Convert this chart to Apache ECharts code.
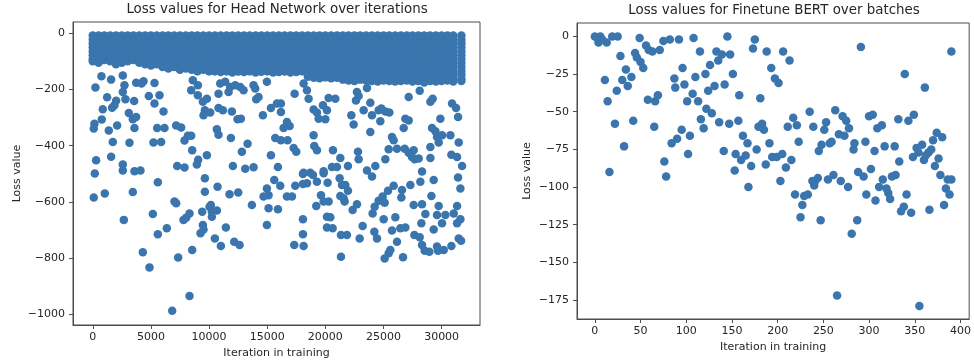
<!DOCTYPE html>
<html><head><meta charset="utf-8">
<script src="https://cdn.jsdelivr.net/npm/echarts@6/dist/echarts.min.js"></script>
<style>html,body{margin:0;padding:0;background:#fff}#c{width:974px;height:364px}</style>
</head><body><div id="c"></div>
<script>
// ---------- Head Network: dense band (columns) ----------
const headBlobX = [0,500,1000,1500,2000,2500,3000,3500,4000,4500,5000,5500,6000,6500,7000,7500,8000,8500,9000,9500,10000,10500,11000,11500,12000,12500,13000,13500,14000,14500,15000,15500,16000,16500,17000,17500,18000,18500,19000,19500,20000,20500,21000,21500,22000,22500,23000,23500,24000,24500,25000,25500,26000,26500,27000,27500,28000,28500,29000,29500,30000,30500,31000,31700];
const headBlobBottom = [-100,-105,-95,-100,-110,-105,-100,-95,-105,-110,-115,-110,-120,-125,-120,-130,-125,-130,-135,-130,-135,-135,-138,-135,-140,-136,-138,-135,-140,-137,-135,-140,-138,-136,-140,-138,-135,-155,-158,-160,-157,-160,-158,-165,-168,-170,-165,-168,-170,-172,-168,-170,-172,-170,-168,-172,-170,-175,-170,-172,-170,-168,-172,-170];
const headBlobLevels = [-8,-22,-36,-50,-64,-78,-92,-106,-120,-134,-148,-162];
// ---------- Head Network: isolated points ----------
const headOutX = [230,746,1578,2583,2726,2583,2812,1234,2009,1865,861,1664,3730,4361,4189,5308,4820,5738,3558,5308,6083,3099,3443,3730,3587,775,144,87,1377,2095,5537,6169,7173,7603,8179,8464,7890,1722,3156,5222,5881,8550,9066,9812,1578,287,2583,2583,3587,4103,7259,7890,8952,8607,9037,8464,9037,9468,9640,9525,9812,173,
10959,11389,11819,12250,12680,12967,11676,10815,13828,13971,14975,14258,14057,10098,10815,11188,11963,12451,12737,15320,15836,16180,16180,14631,17357,18131,18418,18562,20283,20857,19795,18992,19278,19422,20000,20140,16697,16927,16410,10672,10815,11877,15692,16180,16754,13311,12824,15320,17271,17500,18992,19049,19278,20656,21287,12049,13110,13828,15922,18131,18705,19853,20570,21000,
22720,22634,22863,23581,23868,23294,24011,24585,24814,25159,25503,24728,22232,22433,23868,25732,25876,25446,26163,26880,27167,26737,27167,28114,29032,29232,29893,29175,29462,29606,30036,29749,29032,30897,31241,31413,30753,31471,30839,31327,31758,26823,27167,27454,27683,27597,28027,29032,25159,22806,22863,21945,23581,24298,
86,1033,3443,5595,2668,5165,6370,5595,7029,7173,4304,4878,7345,8550,8320,6829,7804,8033,8320,9411,9468,9267,9525,9640,9640,10042,
10729,11762,12508,14975,15119,15606,16123,14688,13684,15119,15922,16697,17127,17414,18074,18074,18418,18935,19278,19853,20197,19623,19853,19221,20283,21287,21430,21230,10155,10241,10672,10241,11446,10500,11016,12164,12623,14975,18074,18074,17328,18131,20140,20427,20140,20628,21344,21344,
24011,21716,21945,21572,21658,22720,22347,21859,23208,22950,24241,24068,24585,24929,25101,25388,25876,26593,26536,27310,28171,28315,29318,29118,27597,28315,29749,28601,29605,30323,31413,31614,31327,31040,31614,31327,30036,25015,26020,28257,29318,25732,26450,26880,24213,24442,26163,27655,28114,28315,28544,28945,29605,29691,30180,30839,31471,31671,25101,25446,25589,26679];
const headOutY = [-193,-153,-165,-150,-185,-209,-235,-228,-240,-256,-270,-265,-176,-171,-179,-177,-223,-221,-241,-250,-278,-284,-306,-298,-337,-307,-322,-339,-346,-328,-337,-337,-328,-335,-365,-365,-382,-387,-390,-389,-387,-416,-450,-434,-439,-452,-467,-488,-491,-488,-472,-478,-467,-167,-185,-203,-221,-244,-274,-292,-233,-499,
-179,-173,-191,-185,-191,-203,-209,-215,-185,-197,-173,-227,-235,-282,-266,-274,-278,-306,-304,-266,-250,-250,-280,-292,-215,-179,-203,-233,-230,-233,-256,-271,-282,-304,-306,-274,-316,-330,-337,-342,-361,-373,-373,-381,-381,-393,-422,-434,-408,-422,-363,-401,-416,-416,-444,-472,-482,-477,-476,-496,-496,-491,-476,-476,
-209,-239,-223,-195,-247,-274,-292,-274,-268,-278,-282,-313,-292,-325,-351,-369,-381,-413,-411,-304,-310,-337,-227,-205,-244,-233,-304,-337,-349,-369,-363,-389,-405,-250,-266,-298,-363,-389,-432,-440,-472,-411,-425,-440,-448,-416,-446,-444,-448,-422,-448,-472,-488,-472,
-584,-570,-565,-530,-664,-643,-694,-715,-599,-605,-779,-833,-798,-771,-935,-987,-664,-656,-641,-635,-682,-712,-698,-516,-564,-617,
-546,-573,-567,-552,-576,-522,-543,-581,-611,-623,-626,-581,-581,-543,-501,-536,-534,-504,-528,-498,-532,-576,-599,-615,-599,-579,-540,-516,-611,-635,-631,-653,-691,-730,-757,-742,-753,-682,-662,-715,-753,-757,-653,-655,-691,-694,-718,-795,
-510,-540,-560,-587,-599,-608,-629,-718,-686,-730,-617,-641,-596,-581,-603,-560,-543,-558,-584,-540,-528,-492,-522,-579,-611,-608,-615,-643,-647,-647,-513,-552,-615,-641,-662,-676,-676,-662,-655,-676,-698,-702,-694,-691,-706,-730,-742,-718,-726,-753,-774,-777,-759,-774,-771,-757,-730,-738,-801,-783,-771,-797];
// ---------- Finetune BERT ----------
const bertX = [0,3,6,4,8,13,19,25,11,14,16,22,24,28,32,30,34,36,40,42,49,44,46,50,53,56,59,63,58,66,69,65,71,75,82,92,76,78,84,90,87,88,95,96,98,101,104,102,107,108,110,113,115,116,119,121,122,124,128,131,126,133,135,139,136,141,142,145,148,151,147,157,158,153,154,160,162,165,167,171,168,175,173,177,181,179,183,185,188,187,191,193,194,
197,201,206,213,199,205,209,215,203,217,211,221,223,235,239,245,248,253,251,257,259,263,271,275,278,267,273,291,284,283,296,300,304,306,309,314,317,328,332,339,343,349,361,390,219,225,227,229,233,238,241,240,244,247,255,261,265,269,277,281,287,288,294,302,297,307,311,315,319,321,323,325,329,333,335,338,341,346,348,352,354,355,358,360,362,365,368,370,372,374,376,380,366,378,382,384,386,388,390];
const bertY = [0,-1,0,-4,-2,-4,0,0,-29,-43,-90,-58,-36,-13,-73,-29,-22,-33,-27,-56,-1,-11,-14,-17,-21,-6,-9,-10,-42,-43,-39,-60,-9,-3,-2,-2,-83,-93,-71,-68,-28,-34,-62,-21,-32,-43,-66,-78,-38,-1,-27,-43,-10,-55,-61,-25,-48,-36,-51,-33,-19,-10,-16,-12,-57,-76,-32,0,-12,-25,-58,-56,-39,-89,-78,-82,-66,-79,-71,-86,-100,-2,-8,-75,-41,-60,-58,-62,-10,-85,-71,-21,-80,
-28,-31,-10,-16,-80,-78,-87,-82,-96,-54,-60,-59,-70,-50,-60,-76,-72,-57,-62,-71,-70,-49,-53,-56,-61,-65,-66,-7,-71,-75,-70,-53,-52,-76,-61,-59,-73,-73,-55,-25,-56,-52,-34,-10,-105,-120,-112,-106,-105,-96,-96,-99,-94,-122,-95,-92,-172,-96,-100,-131,-122,-90,-93,-88,-105,-109,-100,-95,-101,-104,-108,-93,-92,-83,-116,-113,-105,-117,-80,-74,-77,-179,-72,-82,-79,-77,-75,-69,-86,-64,-81,-67,-115,-92,-112,-101,-95,-105,-95];
// ---------- tick labels ----------
const headXTicks = [0,5000,10000,15000,20000,25000,30000];
const headYTicks = [0,-200,-400,-600,-800,-1000];
const bertXTicks = [0,50,100,150,200,250,300,350,400];
const bertYTicks = [0,-25,-50,-75,-100,-125,-150,-175];

const headData = [];
headBlobX.forEach((x, i) => {
  headBlobLevels.forEach(l => { if (l > headBlobBottom[i]) headData.push([x, l]); });
  headData.push([x, headBlobBottom[i]]);
});
headOutX.forEach((x, i) => headData.push([x, headOutY[i]]));
const bertData = bertX.map((x, i) => [x, bertY[i]]);

const FONT = 'DejaVu Sans';
const TXT = '#262626';
const FRAME = '#4d4d4d';
const DOT = '#3a75ae';
const fmt = v => String(v).replace('-', '\u2212');

function xAx(gi, min, max, ticks, name, gap) {
  return {
    type: 'value', gridIndex: gi, min, max,
    name, nameLocation: 'middle', nameGap: gap,
    nameTextStyle: { fontFamily: FONT, fontSize: 11, color: TXT },
    axisLine: { show: true, onZero: false, lineStyle: { color: FRAME, width: 1 } },
    axisTick: { show: true, length: 4, customValues: ticks, lineStyle: { color: FRAME } },
    axisLabel: { customValues: ticks, formatter: fmt, margin: 7, fontFamily: FONT, fontSize: 11, color: TXT },
    splitLine: { show: false }, minorSplitLine: { show: false }
  };
}
function yAx(gi, min, max, ticks, name, gap) {
  return {
    type: 'value', gridIndex: gi, min, max,
    name, nameLocation: 'middle', nameGap: gap,
    nameTextStyle: { fontFamily: FONT, fontSize: 11, color: TXT },
    axisLine: { show: true, onZero: false, lineStyle: { color: FRAME, width: 1 } },
    axisTick: { show: true, length: 4, customValues: ticks, lineStyle: { color: FRAME } },
    axisLabel: { customValues: ticks, formatter: fmt, margin: 8, fontFamily: FONT, fontSize: 11, color: TXT },
    splitLine: { show: false }, minorSplitLine: { show: false }
  };
}

const chart = echarts.init(document.getElementById('c'), null, { renderer: 'canvas' });
chart.setOption({
  animation: false,
  backgroundColor: '#fff',
  title: [
    { text: 'Loss values for Head Network over iterations', left: 277, top: 3, textAlign: 'center', padding: 0,
      textStyle: { fontFamily: FONT, fontSize: 13.4, fontWeight: 'normal', color: TXT } },
    { text: 'Loss values for Finetune BERT over batches', left: 774, top: 4, textAlign: 'center', padding: 0,
      textStyle: { fontFamily: FONT, fontSize: 13.4, fontWeight: 'normal', color: TXT } }
  ],
  grid: [
    { left: 73, top: 22, width: 407, height: 303, show: true, borderColor: FRAME, borderWidth: 1, backgroundColor: 'transparent' },
    { left: 577, top: 23, width: 394, height: 296, show: true, borderColor: FRAME, borderWidth: 1, backgroundColor: 'transparent' }
  ],
  xAxis: [
    xAx(0, -1700, 33300, headXTicks, 'Iteration in training', 23),
    xAx(1, -19.5, 409.5, bertXTicks, 'Iteration in training', 22)
  ],
  yAxis: [
    yAx(0, -1038, 40, headYTicks, 'Loss value', 50),
    yAx(1, -187.6, 8.9, bertYTicks, 'Loss value', 44)
  ],
  series: [
    { type: 'scatter', xAxisIndex: 0, yAxisIndex: 0, data: headData, symbol: 'circle', symbolSize: 8.5,
      itemStyle: { color: DOT, opacity: 1 }, emphasis: { disabled: true } },
    { type: 'scatter', xAxisIndex: 1, yAxisIndex: 1, data: bertData, symbol: 'circle', symbolSize: 8.5,
      itemStyle: { color: DOT, opacity: 1 }, emphasis: { disabled: true } }
  ]
});
</script></body></html>
